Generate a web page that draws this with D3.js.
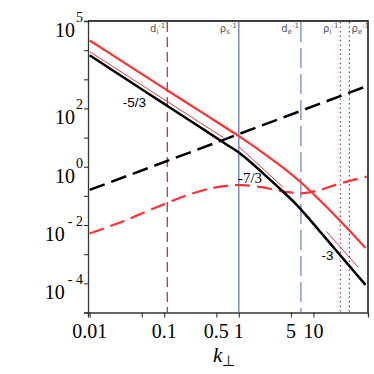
<!DOCTYPE html>
<html>
<head>
<meta charset="utf-8">
<script src="https://cdn.jsdelivr.net/npm/d3@7"></script>
<style>
  body { margin: 0; background: #fff; }
  svg { display: block; }
</style>
</head>
<body>
<div id="chart"></div>
<script>
// spectra (k, value)
var blackK = [0.01, 0.03, 0.1, 0.3, 0.7, 1, 1.5, 2.4, 3.6, 5.5, 8, 12, 18, 28, 50];
var blackV = [6650, 1067, 143.5, 23, 5.6, 3.09, 1.32, 0.44, 0.171, 0.0607, 0.0216, 0.0064, 0.0019, 0.000505, 0.0000885];

var redK = [0.01, 0.03, 0.1, 0.3, 1, 2, 4, 6.6, 11, 17, 27, 50];
var redV = [21400, 3530, 490, 80.7, 11.2, 3.33, 0.89, 0.311, 0.0918, 0.0303, 0.00887, 0.00163];

var blackDashK = [0.01, 50];
var blackDashV = [0.16, 560];

var redDashK = [0.01, 0.03, 0.11, 0.25, 0.45, 0.7, 1.1, 2, 4, 7, 12, 22, 52];
var redDashV = [0.0051, 0.0145, 0.058, 0.126, 0.188, 0.222, 0.234, 0.2, 0.141, 0.123, 0.158, 0.26, 0.46];

// thin reference slopes
var fitK = [[0.01, 0.62], [1, 3.9], [15, 40]];
var fitV = [[8900, 10], [4.9, 0.2], [0.006, 0.00035]];
var fitText = ["-5/3", "-7/3", "-3"];
var fitTextAt = [[134.5, 107], [250, 183], [327.5, 260]]; // label anchor px

// characteristic scales
var scaleNames = ["d", "\u03c1", "d", "\u03c1", "\u03c1"];
var scaleSubs = ["i", "s", "e", "i", "e"];
var scaleK = [0.11, 1, 6.8, 23, 30.4];
var scaleColors = ["#c8323d", "#6677bb", "#7d8fd3", "#a04a5a", "#4456a8"];
var scaleDash = ["10,5", null, "20,6", "1.5,3", "1.5,3"];
var scaleWidth = [1.3, 1.3, 1.4, 1.2, 1.2];

var xTicks = [0.01, 0.05, 0.1, 0.5, 1, 5, 10];
var xTickLabels = ["0.01", "", "0.1", "0.5", "1", "5", "10"];
var yTicks = [1e-5, 1e-4, 1e-3, 1e-2, 1e-1, 1, 10, 100, 1e3, 1e4, 1e5];
var yLabelExp = [5, 2, 0, -2, -4];

var W = 374, H = 374;
var pLeft = 88, pRight = 368, pTop = 21, pBottom = 312.5;

var svg = d3.select("#chart").append("svg")
    .attr("width", W)
    .attr("height", H);

var x = d3.scaleLog().domain([0.0095, 54]).range([pLeft, pRight]);
var y = d3.scaleLog().domain([1e-5, 1e5]).range([pBottom, pTop]);

var serif = "Liberation Serif, Times New Roman, serif";
var sans = "DejaVu Sans, Verdana, sans-serif";

// axes
svg.append("g")
    .attr("transform", "translate(0," + pBottom + ")")
    .call(d3.axisBottom(x).tickValues(xTicks).tickSize(5).tickFormat(""));
svg.append("g")
    .attr("transform", "translate(" + pLeft + ",0)")
    .call(d3.axisLeft(y).tickValues(yTicks).tickSize(4).tickFormat(""));
svg.selectAll(".domain").attr("stroke", "#333").attr("stroke-width", 1.3);
svg.selectAll(".tick line").attr("stroke", "#333").attr("stroke-width", 1.1);

// top and right frame
svg.append("path")
    .attr("d", "M" + pLeft + "," + pTop + "H" + pRight + "V" + pBottom)
    .attr("fill", "none")
    .attr("stroke", "#000")
    .attr("stroke-width", 1.4);

// x tick labels
xTicks.forEach(function(t, i){
	if (!xTickLabels[i]) return;
	svg.append("text")
		.attr("x", x(t))
		.attr("y", 338)
		.attr("text-anchor", "middle")
		.attr("font-family", serif)
		.attr("font-size", 20)
		.text(xTickLabels[i]);
});

// y tick labels 10^n
yLabelExp.forEach(function(e){
	var t = svg.append("text")
		.attr("x", 83)
		.attr("y", y(Math.pow(10, e)) + 16)
		.attr("text-anchor", "end")
		.attr("font-family", serif)
		.attr("font-size", 20);
	t.append("tspan").text("10");
	t.append("tspan")
		.attr("dy", -15)
		.attr("dx", e < 0 ? 3 : 1)
		.attr("font-size", 14)
		.text(e < 0 ? "- " + (-e) : "" + e);
});

// axis title
var xt = svg.append("text")
    .attr("x", 213)
    .attr("y", 362)
    .attr("font-family", serif)
    .attr("font-size", 21);
xt.append("tspan").attr("font-style", "italic").text("k");
xt.append("tspan").attr("dy", 4).attr("font-size", 15).text("\u22a5");

// vertical scale lines
scaleK.forEach(function(k, i){
	svg.append("line")
		.attr("x1", x(k)).attr("x2", x(k))
		.attr("y1", pTop + 1).attr("y2", pBottom)
		.attr("stroke", scaleColors[i])
		.attr("stroke-width", scaleWidth[i])
		.attr("stroke-dasharray", scaleDash[i]);

	var onRight = i == 4;
	var lab = svg.append("text")
		.attr("x", onRight ? x(k) + 2 : x(k) - 2)
		.attr("y", 32)
		.attr("text-anchor", onRight ? "start" : "end")
		.attr("font-family", sans)
		.attr("font-size", 10)
		.attr("fill", "#555");
	lab.append("tspan").text(scaleNames[i]);
	lab.append("tspan").attr("dy", 2).attr("font-size", 7).text(scaleSubs[i]);
	lab.append("tspan").attr("dy", -6).attr("font-size", 7).text("-1");
});

var line = d3.line()
    .x(function(d){ return x(d[0]); })
    .y(function(d){ return y(d[1]); })
    .curve(d3.curveCatmullRom.alpha(0.5));

function zip(ks, vs){
	return ks.map(function(k, i){ return [k, vs[i]]; });
}

// thin reference slopes
fitK.forEach(function(ks, i){
	svg.append("path")
		.attr("d", line(zip(ks, fitV[i])))
		.attr("fill", "none")
		.attr("stroke", "#e23b3b")
		.attr("stroke-width", 1);
});

svg.append("path")
    .attr("d", line(zip(blackDashK, blackDashV)))
    .attr("fill", "none")
    .attr("stroke", "#000")
    .attr("stroke-width", 2.5)
    .attr("stroke-dasharray", "16,7");

svg.append("path")
    .attr("d", line(zip(redDashK, redDashV)))
    .attr("fill", "none")
    .attr("stroke", "#ff3030")
    .attr("stroke-width", 2.2)
    .attr("stroke-dasharray", "15,7");

svg.append("path")
    .attr("d", line(zip(blackK, blackV)))
    .attr("fill", "none")
    .attr("stroke", "#000")
    .attr("stroke-width", 2.5);

svg.append("path")
    .attr("d", line(zip(redK, redV)))
    .attr("fill", "none")
    .attr("stroke", "#ff3030")
    .attr("stroke-width", 2.2);

// slope labels
fitText.forEach(function(s, i){
	svg.append("text")
		.attr("x", fitTextAt[i][0])
		.attr("y", fitTextAt[i][1])
		.attr("text-anchor", "middle")
		.attr("font-family", i == 1 ? serif : "Liberation Sans, Arial, sans-serif")
		.attr("font-size", i == 1 ? 15 : 13.5)
		.text(s);
});
</script>
</body>
</html>
